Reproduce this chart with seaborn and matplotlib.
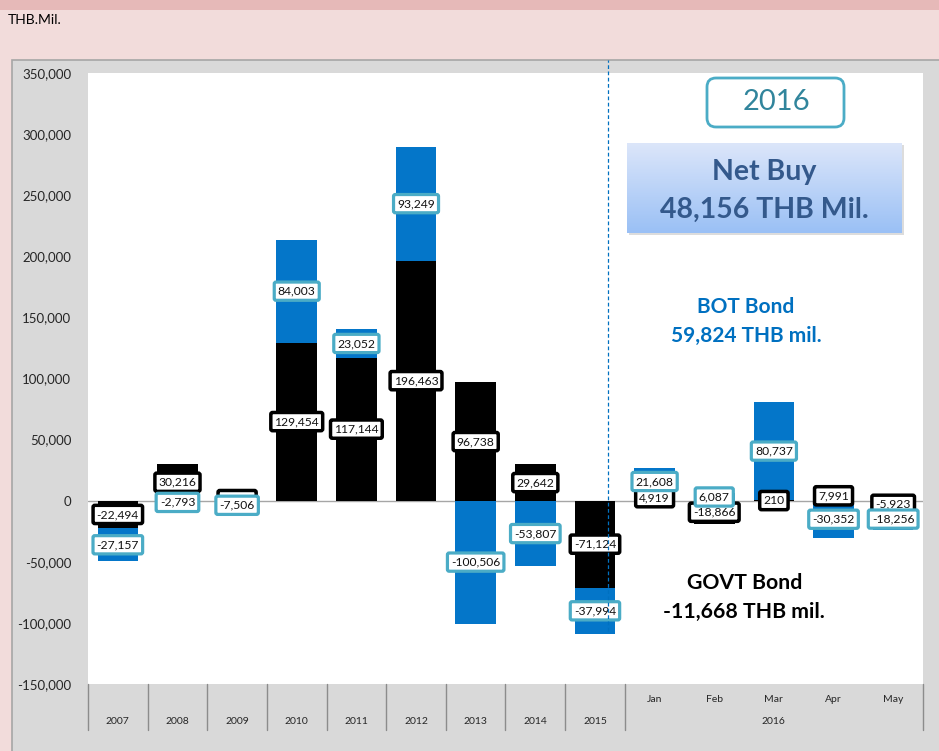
import numpy as np
import pandas as pd
import matplotlib
matplotlib.use("Agg")
import matplotlib.pyplot as plt
import matplotlib.transforms as mtransforms
from matplotlib.patches import FancyBboxPatch, Rectangle
import seaborn as sns

# ---------------- data ----------------
categories = ["2007", "2008", "2009", "2010", "2011", "2012", "2013", "2014", "2015",
              "Jan", "Feb", "Mar", "Apr", "May"]
govt_bond = [-22494, 30216, 1800, 129454, 117144, 196463, 96738, 29642, -71124,
             4919, -18866, 210, 7991, -5923]
bot_bond = [-27157, -2793, -7506, 84003, 23052, 93249, -100506, -53807, -37994,
            21608, 6087, 80737, -30352, -18256]
year_labels = categories[:9]
month_labels = categories[9:]
month_group = "2016"
yticks = list(range(-150000, 350001, 50000))

BLUE = "#0476C9"
TEAL = "#4BACC6"

sns.set_theme(style="white")
plt.rcParams['font.family'] = ['Lato', 'DejaVu Sans']

W, H = 939, 751
fig = plt.figure(figsize=(W / 100, H / 100), dpi=100)
fig.patch.set_facecolor("#F2DCDB")
px = mtransforms.IdentityTransform()


def fx(p):
    return p / W


def fy(p):
    return 1 - p / H


# background strips
fig.add_artist(Rectangle((0, H - 10), W, 10, transform=px, fc="#E6B9B8", ec="none", zorder=-2))
fig.add_artist(Rectangle((12, -2), W, H - 60 + 2, transform=px, fc="#D9D9D9",
                         ec="#A6A6A6", lw=1.2, zorder=-1))

ax = fig.add_axes([fx(88), fy(684), fx(923) - fx(88), (684 - 73) / H])
ax.set_facecolor("white")

df = pd.DataFrame({"category": categories, "govt": govt_bond, "bot": bot_bond})
same = np.sign(df["govt"]) == np.sign(df["bot"])
df["bot_extent"] = np.where(same, df["govt"] + df["bot"], df["bot"])
df["bot_center"] = np.where(same, df["govt"] + df["bot"] / 2, df["bot"] / 2)
df["govt_center"] = df["govt"] / 2

sns.barplot(data=df, x="category", y="bot_extent", order=categories, color=BLUE,
            saturation=1, width=0.68, linewidth=0, ax=ax, zorder=2)
sns.barplot(data=df, x="category", y="govt", order=categories, color="black",
            saturation=1, width=0.68, linewidth=0, ax=ax, zorder=3)

ax.axhline(0, color="#A6A6A6", lw=1, zorder=1)

ax.set_xlim(-0.5, len(categories) - 0.5)
ax.set_ylim(-150000, 350000)
ax.set_yticks(yticks)
ax.set_yticklabels([f"{v:,}" for v in yticks])
ax.tick_params(axis="y", length=0, pad=12, labelsize=9.5, labelcolor="#262626")
ax.tick_params(axis="x", length=0, labelbottom=False)
ax.set_xlabel("")
ax.set_ylabel("")
for s in ax.spines.values():
    s.set_visible(False)

# data labels
for i, r in df.iterrows():
    ax.text(i, r["govt_center"], f"{int(r['govt']):,}", ha="center", va="center",
            fontsize=8.7, color="#111111", zorder=5,
            bbox=dict(boxstyle="round,pad=0.3,rounding_size=0.15", fc="white",
                      ec="black", lw=2.5))
for i, r in df.iterrows():
    ax.text(i, r["bot_center"], f"{int(r['bot']):,}", ha="center", va="center",
            fontsize=8.7, color="#111111", zorder=6,
            bbox=dict(boxstyle="round,pad=0.3,rounding_size=0.15", fc="white",
                      ec=TEAL, lw=2.3))

# category axis
xt = ax.get_xaxis_transform()
ah = 684 - 73
seps = [i - 0.5 for i in range(len(year_labels) + 1)] + [len(categories) - 0.5]
for b in seps:
    ax.plot([b, b], [0, -(730 - 684) / ah], transform=xt, clip_on=False,
            color="#8C8C8C", lw=1)
for i, lab in enumerate(year_labels):
    ax.text(i, -(722 - 684) / ah, lab, transform=xt, ha="center", va="center",
            fontsize=7.5, color="#262626")
for j, lab in enumerate(month_labels):
    ax.text(len(year_labels) + j, -(699 - 684) / ah, lab, transform=xt, ha="center",
            va="center", fontsize=7.5, color="#262626")
ax.text(len(year_labels) + (len(month_labels) - 1) / 2, -(722 - 684) / ah, month_group,
        transform=xt, ha="center", va="center", fontsize=7.5, color="#262626")

# dashed separator
top_val = 350000 + (73 - 60) / ah * 500000
ax.plot([8.22, 8.22], [-106500, top_val], clip_on=False, ls=(0, (3, 2)),
        color="#0070C0", lw=0.9, zorder=7)

# header text
fig.text(fx(8), fy(20), "THB.Mil.", ha="left", va="center", fontsize=10, color="black")

# 2016 box
fig.add_artist(FancyBboxPatch((707, H - 127), 137, 49, transform=px,
                              boxstyle="round,pad=0,rounding_size=9",
                              fc="white", ec=TEAL, lw=2, zorder=2))
fig.text(fx(776), fy(102), "2016", ha="center", va="center", fontsize=21,
         color="#31859C", zorder=3)

# Net buy gradient box
fig.add_artist(Rectangle((629, H - 235), 275, 90, transform=px, fc="#8C8C8C",
                         alpha=0.3, ec="none", zorder=1))
gax = fig.add_axes([fx(627), fy(233), 275 / W, 90 / H], zorder=2)
top_c = np.array([220, 230, 250]) / 255
bot_c = np.array([154, 192, 245]) / 255
t = np.linspace(0, 1, 100)[:, None, None]
grad = top_c[None, None, :] * (1 - t) + bot_c[None, None, :] * t
gax.imshow(grad, aspect="auto", extent=[0, 1, 0, 1])
gax.set_axis_off()
fig.text(fx(764), fy(172), "Net Buy", ha="center", va="center", fontsize=20.5,
         fontweight="bold", color="#34598C", zorder=3)
fig.text(fx(764), fy(210), "48,156 THB Mil.", ha="center", va="center", fontsize=20.5,
         fontweight="bold", color="#34598C", zorder=3)

# series summaries
fig.text(fx(746), fy(307), "BOT Bond", ha="center", va="center", fontsize=15,
         fontweight="bold", color="#0070C0", zorder=3)
fig.text(fx(746), fy(336), "59,824 THB mil.", ha="center", va="center", fontsize=15,
         fontweight="bold", color="#0070C0", zorder=3)
fig.text(fx(745), fy(583), "GOVT Bond", ha="center", va="center", fontsize=15.3,
         fontweight="bold", color="black", zorder=3)
fig.text(fx(744), fy(612), "-11,668 THB mil.", ha="center", va="center", fontsize=15.3,
         fontweight="bold", color="black", zorder=3)

fig.savefig("out.png", dpi=100, facecolor=fig.get_facecolor())
